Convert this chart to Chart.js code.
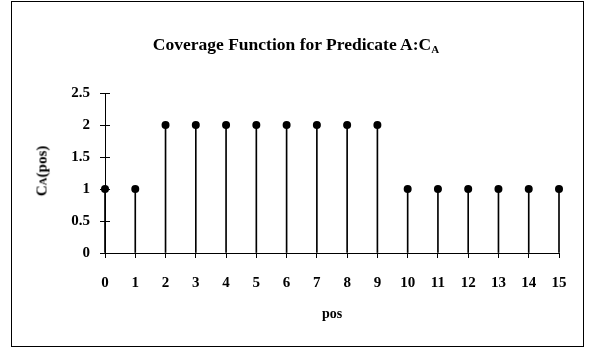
<!DOCTYPE html>
<html>
<head>
<meta charset="utf-8">
<script src="https://cdn.jsdelivr.net/npm/chart.js@4"></script>
<style>
    html, body { margin: 0; padding: 0; background: #fff; }
    body { width: 592px; height: 349px; position: relative; overflow: hidden; font-family: "Liberation Serif", "DejaVu Serif", serif; }
    #frame { position: absolute; left: 11px; top: 1px; width: 571px; height: 344px; border: 1px solid #000; }
    #chart { position: absolute; left: 0; top: 0; }
    .title { position: absolute; left: 0; width: 592px; top: 34px; text-align: center; font-weight: bold; font-size: 17.5px; }
    .title sub { font-size: 11px; vertical-align: -3px; }
    .ytitle { position: absolute; left: 42px; top: 171px; transform: translate(-50%, -50%) rotate(-90deg); font-weight: bold; font-size: 15px; white-space: nowrap; }
    .ytitle sub { font-size: 11px; vertical-align: 0; }
</style>
</head>
<body>
<div id="frame"></div>
<canvas id="chart" width="592" height="349"></canvas>
<div class="title">Coverage Function for Predicate A:C<sub>A</sub></div>
<div class="ytitle">C<sub>A</sub>(pos)</div>
<script>
    const positions = [0, 1, 2, 3, 4, 5, 6, 7, 8, 9, 10, 11, 12, 13, 14, 15];
    const coverage = [1, 1, 2, 2, 2, 2, 2, 2, 2, 2, 1, 1, 1, 1, 1, 1];
    const yTicks = [0, 0.5, 1, 1.5, 2, 2.5];
    const xTitle = 'pos';

    const points = positions.map((p, i) => ({ x: p, y: coverage[i] }));
    const tickFont = { family: 'Liberation Serif', size: 15, weight: 'bold' };

    // small inward ticks on the y axis, like the original
    const innerTicks = {
        id: 'innerTicks',
        afterDraw(chart) {
            const { ctx, scales: { y } } = chart;
            ctx.save();
            ctx.strokeStyle = '#000';
            ctx.lineWidth = 1;
            yTicks.forEach((v) => {
                const py = Math.round(y.getPixelForValue(v)) + 0.5;
                ctx.beginPath();
                ctx.moveTo(y.right, py);
                ctx.lineTo(y.right + 5, py);
                ctx.stroke();
            });
            ctx.restore();
        }
    };

    new Chart(document.getElementById('chart'), {
        data: {
            datasets: [
                { type: 'bar', data: points, backgroundColor: '#000', barThickness: 1, grouped: false, clip: false, order: 2 },
                { type: 'scatter', data: points, pointRadius: 4, pointBackgroundColor: '#000', pointBorderColor: '#000', pointBorderWidth: 0, clip: false, order: 1 }
            ]
        },
        options: {
            responsive: false,
            animation: false,
            layout: { padding: { left: 0, top: 93, right: 33, bottom: 0 } },
            plugins: { legend: { display: false }, tooltip: { enabled: false }, title: { display: false } },
            scales: {
                x: {
                    type: 'linear', min: 0, max: 15, offset: false,
                    afterFit: (scale) => { scale.height = 96; },
                    afterBuildTicks: (scale) => { scale.ticks = positions.map((v) => ({ value: v })); },
                    grid: { offset: false, drawOnChartArea: false, drawTicks: true, tickLength: 5, color: '#000' },
                    border: { color: '#000', width: 1 },
                    ticks: { color: '#000', font: tickFont, padding: 16, maxRotation: 0, autoSkip: false },
                    title: { display: true, text: xTitle, color: '#000', font: { family: 'Liberation Serif', size: 14, weight: 'bold' }, padding: { top: 0, bottom: 26 } }
                },
                y: {
                    min: 0, max: 2.5,
                    afterFit: (scale) => { scale.width = 105; },
                    afterBuildTicks: (scale) => { scale.ticks = yTicks.map((v) => ({ value: v })); },
                    grid: { drawOnChartArea: false, drawTicks: true, tickLength: 5, color: '#000' },
                    border: { color: '#000', width: 1 },
                    ticks: { color: '#000', font: tickFont, padding: 10, callback: (v) => String(v) }
                }
            }
        },
        plugins: [innerTicks]
    });
</script>
</body>
</html>
